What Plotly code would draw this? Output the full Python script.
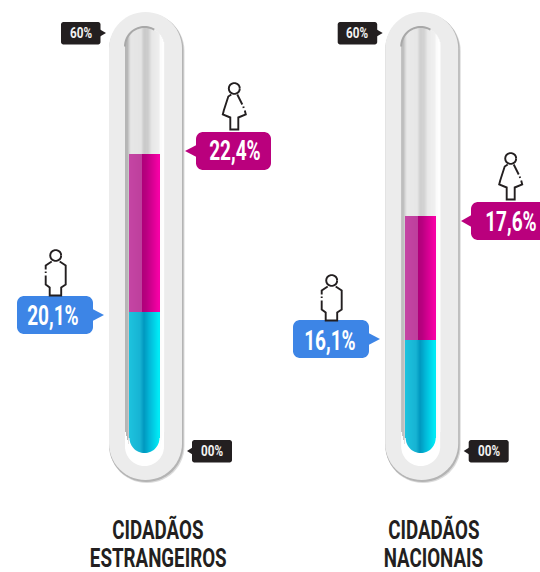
import math
import plotly.graph_objects as go

categories = ["CIDADÃOS<br>ESTRANGEIROS", "CIDADÃOS<br>NACIONAIS"]
male_values = [20.1, 16.1]
female_values = [22.4, 17.6]
female_labels = ["22,4%", "17,6%"]
male_labels = ["20,1%", "16,1%"]
tick_low, tick_high = "00%", "60%"

W, H = 540, 572
PX_PER_UNIT = 7.03
ZERO_PY = 453
FONT = "Roboto"
CENTERS = [144.5, 420.7]
HALF_FILL = 15
INK = "#231f20"
MAGENTA = "#ba007d"
BLUE = "#3d85e6"
ICON_W = 1.9

def px(x): return x / W
def py(y): return 1 - y / H

def lerp_color(c1, c2, t):
    a = [int(c1[i:i+2], 16) for i in (1, 3, 5)]
    b = [int(c2[i:i+2], 16) for i in (1, 3, 5)]
    return "#%02x%02x%02x" % tuple(round(a[i] + (b[i] - a[i]) * t) for i in range(3))

def ramp(stops, t):
    for (t0, c0), (t1, c1) in zip(stops, stops[1:]):
        if t <= t1:
            return lerp_color(c0, c1, (t - t0) / max(t1 - t0, 1e-6))
    return stops[-1][1]

def path_of(points, close=True):
    s = "M" + " L".join(f"{px(x):.5f},{py(y):.5f}" for x, y in points)
    return s + (" Z" if close else "")

def pill(x0, x1, y0, y1, r, n=14):
    pts = []
    for cx, cy, a0 in [(x1 - r, y0 + r, -90), (x1 - r, y1 - r, 0), (x0 + r, y1 - r, 90), (x0 + r, y0 + r, 180)]:
        for i in range(n + 1):
            a = math.radians(a0 + 90 * i / n)
            pts.append((cx + r * math.cos(a), cy + r * math.sin(a)))
    return pts

shapes = []
def add(points, fill=None, line=None, width=0, close=True, layer="below", opacity=1):
    shapes.append(dict(type="path", path=path_of(points, close), xref="paper", yref="paper",
                       fillcolor=fill if fill else "rgba(0,0,0,0)",
                       line=dict(color=line if line else "rgba(0,0,0,0)", width=width),
                       layer=layer, opacity=opacity))

TUBE = [(0, "#b4b4b4"), (2.5, "#b8b8b8"), (5, "#dedede"), (6, "#e6e6e6"), (16, "#e4e4e4"), (19, "#c9c9c9"),
        (23, "#cdcdcd"), (27, "#e8e8e8"), (34, "#eeeeee"), (35, "#fbfbfb"), (39, "#ffffff")]

for c in CENTERS:
    # outer casing with soft shadow on the right and bottom
    add(pill(c - 35, c + 40, 14, 483, 37), fill="#dcdcdc")
    add(pill(c - 35.5, c + 39, 13, 482, 37), fill="#b4b4b4")
    add(pill(c - 35.5, c + 37.5, 12, 480, 36.5), fill="#ececec")
    # channel, white where it rounds at the bottom
    add(pill(c - 19.5, c + 19.5, 27, 466, 19.5), fill="#ffffff")
    for i in range(39):
        x0 = c - 19.5 + i
        dx = abs(x0 + 0.5 - c)
        top = 27 + 19.5 - math.sqrt(max(19.5 ** 2 - dx ** 2, 0))
        bottom = 430 + (19.5 - dx) * 4 if dx > 15 else 448
        shapes.append(dict(type="rect", xref="paper", yref="paper", x0=px(x0), x1=px(x0 + 1.2),
                           y0=py(top), y1=py(bottom), fillcolor=ramp(TUBE, i + 0.5),
                           line=dict(width=0), layer="below"))
    arc = [(c - 19.5 * math.cos(math.radians(a)), 46.5 - 19.5 * math.sin(math.radians(a))) for a in range(0, 125, 5)]
    add(arc, line="#a8a8a8", width=2, close=False)
    # rounded foot of the fill
    r = HALF_FILL
    for sign in (-1, 1):
        corner = [(c + sign * (r + 1), ZERO_PY + 1), (c + sign * (r + 1), ZERO_PY - r)]
        for a in range(0, 91, 6):
            corner.append((c + sign * r * math.cos(math.radians(a)), ZERO_PY - r + r * math.sin(math.radians(a))))
        add(corner, fill="#ffffff", layer="above")

def tag(x0, x1, y0, y1, tip_x, tip_y, color, r):
    add(pill(x0, x1, y0, y1, r), fill=color)
    base = x1 - 0.5 if tip_x > x1 else x0 + 0.5
    h = (y1 - y0) * 0.16 if (y1 - y0) > 30 else 3.5
    add([(base, tip_y - h), (tip_x, tip_y), (base, tip_y + h)], fill=color)

annotations = []
def text(x, y, s, size, color, bold=True):
    annotations.append(dict(text=f"<b>{s}</b>" if bold else s, x=px(x), y=py(y), xref="paper", yref="paper",
                            showarrow=False, xanchor="center", yanchor="middle", align="center",
                            font=dict(family=FONT, size=size, color=color)))

def female(hx, hy):
    circle = [(hx + 5.5 * math.cos(math.radians(a)), hy + 5.5 * math.sin(math.radians(a))) for a in range(0, 361, 20)]
    add(circle, line=INK, width=ICON_W, close=False)
    add([(hx + 3, hy + 6), (hx + 8, hy + 16)], line=INK, width=ICON_W, close=False)
    add([(hx + 9, hy + 18), (hx + 9.4, hy + 19.5)], line=INK, width=ICON_W, close=False)
    body = [(10.5, 22), (11.5, 26), (4, 29), (4, 41), (-4, 41), (-4, 29), (-11.5, 26), (-10.5, 22), (-6, 8), (-3, 6)]
    add([(hx + a, hy + b) for a, b in body], line=INK, width=ICON_W, close=False)

def male(hx, hy):
    circle = [(hx + 5.5 * math.cos(math.radians(a)), hy + 5.5 * math.sin(math.radians(a))) for a in range(0, 361, 20)]
    add(circle, line=INK, width=ICON_W, close=False)
    add([(hx - 4, hy + 6), (hx - 10, hy + 10), (hx - 10, hy + 14)], line=INK, width=ICON_W, close=False)
    add([(hx - 10, hy + 16), (hx - 10, hy + 17.5)], line=INK, width=ICON_W, close=False)
    body = [(-10, 20), (-10, 29), (-6, 32), (-6, 40), (5.5, 40), (5.5, 32), (10, 29), (10, 10), (4, 6)]
    add([(hx + a, hy + b) for a, b in body], line=INK, width=ICON_W, close=False)

# value callouts
tag(196, 271, 132, 170, 185, 151, MAGENTA, 7)
tag(17, 93, 296, 334, 104, 315, BLUE, 7)
tag(471, 548, 202, 240, 461, 221, MAGENTA, 7)
tag(293, 369, 320, 358, 380, 339, BLUE, 7)
text(235, 151, female_labels[0], 28, "#ffffff")
text(53, 316, male_labels[0], 28, "#ffffff")
text(511, 221, female_labels[1], 28, "#ffffff")
text(330, 340, male_labels[1], 28, "#ffffff")
female(234.3, 88.5); female(510.7, 158.5)
male(55.7, 255.5); male(331.7, 280.5)

# scale tags
for dx in (0, 276.7):
    tag(61 + dx, 100.5 + dx, 22, 44.5, 106 + dx, 33, INK, 2.5)
    tag(192 + dx, 232 + dx, 440, 462.5, 187 + dx, 451, INK, 2.5)
    text(80.5 + dx, 33, tick_high, 15, "#f2f2f2")
    text(212 + dx, 451, tick_low, 15, "#f2f2f2")

# category titles
for dx, name in zip((158, 433.5), categories):
    top, bottom = name.split("<br>")
    text(dx, 530, top, 25, INK)
    text(dx, 558.5, bottom, 25, INK)

MAG_RAMP = [(0, "#c545a4"), (13, "#bd3f9c"), (13.5, "#b0007a"), (17, "#b80080"), (30, "#f800a6")]
CY_RAMP = [(0, "#1dc3de"), (11, "#17b3d3"), (15, "#0098bf"), (20, "#02b5d6"), (30, "#00ecf7")]

xs, male_y, female_y, male_c, female_c = [], [], [], [], []
for c, mv, fv in zip(CENTERS, male_values, female_values):
    for i in range(2 * HALF_FILL):
        xs.append(c - HALF_FILL + i + 0.5)
        male_y.append(mv)
        female_y.append(fv)
        male_c.append(ramp(CY_RAMP, i + 0.5))
        female_c.append(ramp(MAG_RAMP, i + 0.5))

fig = go.Figure()
fig.add_bar(x=xs, y=male_y, width=1.15, marker=dict(color=male_c, line=dict(width=0)), hoverinfo="skip")
fig.add_bar(x=xs, y=female_y, width=1.15, marker=dict(color=female_c, line=dict(width=0)), hoverinfo="skip")
fig.update_layout(
    width=W, height=H, margin=dict(l=0, r=0, t=0, b=0), barmode="stack", showlegend=False,
    paper_bgcolor="#ffffff", plot_bgcolor="rgba(0,0,0,0)", shapes=shapes, annotations=annotations,
    xaxis=dict(range=[0, W], visible=False, fixedrange=True),
    yaxis=dict(range=[-(H - ZERO_PY) / PX_PER_UNIT, ZERO_PY / PX_PER_UNIT], visible=False, fixedrange=True),
)
# Narrow the real text elements horizontally: the reference face is a condensed one.
POST = """
document.body.style.margin = '0';
document.documentElement.style.overflow = 'hidden';
var widths = {'28': 0.68, '25': 0.75, '15': 0.78};
document.querySelectorAll('.annotation-text').forEach(function (t) {
  var s = widths[String(parseFloat(t.style.fontSize))] || 1;
  var b = t.getBBox();
  var c = b.x + b.width / 2;
  t.setAttribute('transform', 'translate(' + c + ',0) scale(' + s + ',1) translate(' + (-c) + ',0)');
});
"""
fig.write_html("out.html", config=dict(displayModeBar=False), post_script=POST)
